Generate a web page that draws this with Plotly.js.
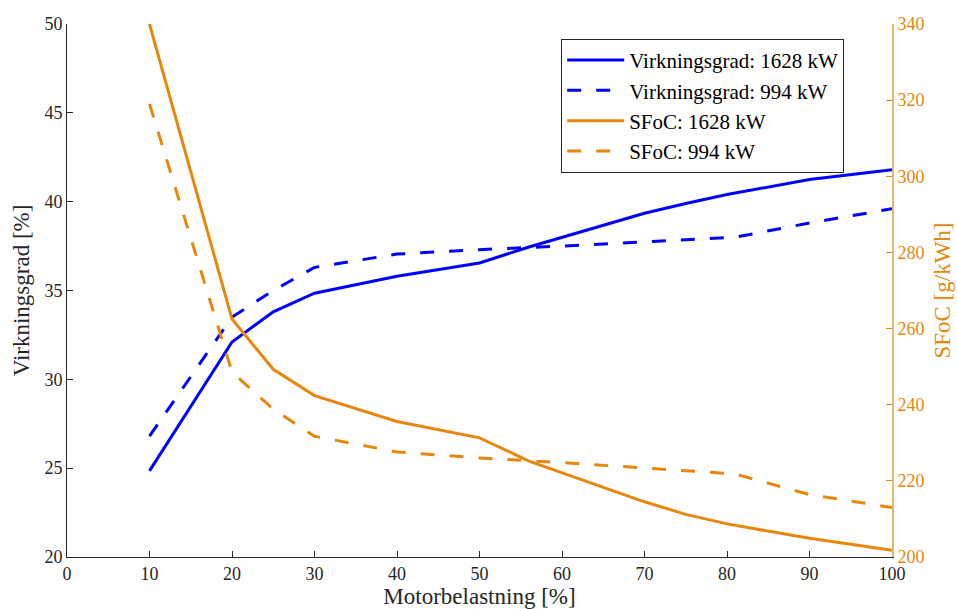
<!DOCTYPE html>
<html>
<head>
<meta charset="utf-8">
<script src="https://cdn.plot.ly/plotly-3.0.1.min.js"></script>
<style>html,body{margin:0;padding:0;background:#fff;}#chart{width:957px;height:609px;}</style>
</head>
<body>
<div id="chart"></div>
<script>
// Motorbelastning [%]
const load1628 = [10, 20, 25, 30, 40, 50, 56, 70, 75, 80, 90, 100];
const eff1628  = [24.85, 32.1, 33.8, 34.85, 35.8, 36.55, 37.45, 39.35, 39.9, 40.4, 41.25, 41.8];
const sfoc1628 = [340, 262.5, 249.3, 242.4, 235.6, 231.3, 225.2, 214.5, 211.2, 208.7, 204.9, 201.8];

const load994 = [10, 20, 25, 30, 40, 50, 60, 70, 81, 90, 100];
const eff994  = [26.8, 33.5, 35.0, 36.3, 37.05, 37.3, 37.5, 37.75, 38.0, 38.8, 39.6];
const sfoc994 = [319, 248.6, 238.8, 231.7, 227.6, 226.0, 224.8, 223.4, 221.8, 216.4, 213.0];

const names = ['Virkningsgrad: 1628 kW', 'Virkningsgrad: 994 kW', 'SFoC: 1628 kW', 'SFoC: 994 kW'];

const blue = '#0000FF';
const orange = '#E8870B';
const font = 'Liberation Serif, Times New Roman, serif';
const dash = '14px,15px';

const traces = [
  {x: load1628, y: eff1628, name: names[0], mode: 'lines', line: {color: blue, width: 3}},
  {x: load994, y: eff994, name: names[1], mode: 'lines', line: {color: blue, width: 3, dash: dash}},
  {x: load1628, y: sfoc1628, name: names[2], mode: 'lines', yaxis: 'y2', line: {color: orange, width: 3}},
  {x: load994, y: sfoc994, name: names[3], mode: 'lines', yaxis: 'y2', line: {color: orange, width: 3, dash: dash}}
];

const layout = {
  width: 957, height: 609,
  margin: {l: 67, r: 65, t: 24, b: 52},
  paper_bgcolor: '#fff', plot_bgcolor: '#fff',
  font: {family: font, size: 18, color: '#262626'},
  showlegend: true,
  legend: {
    x: 0.599, y: 0.972, xanchor: 'left', yanchor: 'top',
    bgcolor: '#fff', bordercolor: '#262626', borderwidth: 1,
    font: {family: font, size: 21, color: '#000'},
    itemwidth: 57,
    entrywidth: 250,
    tracegroupgap: 0
  },
  xaxis: {
    range: [0, 100], dtick: 10, tick0: 0,
    showgrid: false, zeroline: false,
    showline: true, linecolor: '#262626', linewidth: 1,
    ticks: 'inside', ticklen: 6, tickcolor: '#262626',
    tickfont: {family: font, size: 18, color: '#262626'},
    title: {text: 'Motorbelastning [%]', font: {family: font, size: 23, color: '#262626'}, standoff: 4}
  },
  yaxis: {
    range: [20, 50], dtick: 5, tick0: 20,
    showgrid: false, zeroline: false,
    showline: true, linecolor: '#262626', linewidth: 1,
    ticks: 'inside', ticklen: 6, tickcolor: '#262626',
    tickfont: {family: font, size: 18, color: '#262626'},
    title: {text: 'Virkningsgrad [%]', font: {family: font, size: 23, color: '#262626'}, standoff: 8}
  },
  yaxis2: {
    range: [200, 340], dtick: 20, tick0: 200,
    overlaying: 'y', side: 'right',
    showgrid: false, zeroline: false,
    showline: true, linecolor: '#F0B36A', linewidth: 2,
    ticks: 'inside', ticklen: 6, tickcolor: orange,
    tickfont: {family: font, size: 18, color: orange},
    title: {text: 'SFoC [g/kWh]', font: {family: font, size: 23, color: orange}, standoff: 10}
  }
};

Plotly.newPlot('chart', traces, layout, {displayModeBar: false, staticPlot: true});
</script>
</body>
</html>
